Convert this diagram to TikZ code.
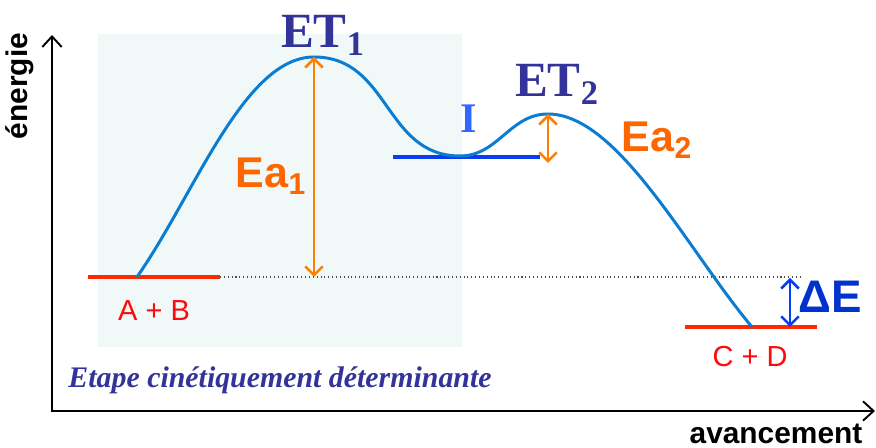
\documentclass[tikz,border=0pt]{standalone}
\usepackage{fontspec}
\setmainfont{Liberation Serif}
\setsansfont{Liberation Sans}
\usetikzlibrary{arrows.meta}
\definecolor{curveblue}{RGB}{10,125,210}
\definecolor{tsblue}{RGB}{51,51,153}
\definecolor{iblue}{RGB}{51,102,255}
\definecolor{ilevel}{RGB}{10,60,240}
\definecolor{levelred}{RGB}{255,40,0}
\definecolor{specred}{RGB}{255,10,10}
\definecolor{eaorange}{RGB}{255,102,0}
\definecolor{gaporange}{RGB}{255,128,0}
\definecolor{deblue}{RGB}{0,51,204}
\definecolor{stepbg}{RGB}{240,249,248}
\newcommand{\fsz}[1]{\fontsize{#1}{#1}\selectfont}

\begin{document}
\begin{tikzpicture}[x=0.02cm, y=0.02cm,
  axis/.style={line width=1.1pt,
    {Straight Barb[length=6pt,width=11pt]}-{Straight Barb[length=6pt,width=11pt]}},
  level/.style={line width=2.8pt},
  gap/.style={line width=1.5pt,
    {Straight Barb[length=5pt,width=10pt]}-{Straight Barb[length=5pt,width=10pt]}},
  ts/.style={font=\bfseries\fsz{28}, text=tsblue, inner sep=0pt, anchor=base},
  ea/.style={font=\sffamily\bfseries\fsz{24.5}, text=eaorange, inner sep=0pt, anchor=base},
  species/.style={font=\sffamily\fsz{16.5}, text=specred, inner sep=0pt, anchor=base},
  axlabel/.style={font=\sffamily\bfseries\fsz{17}, inner sep=0pt}
]
\useasboundingbox (0,0) rectangle (876,448);
% rate-determining step
\fill[stepbg] (98,101) rectangle (462,414);
\node[font=\bfseries\itshape\fsz{17}, text=tsblue, inner sep=0pt, anchor=base]
  (rds) at (280,60) {Etape cinétiquement déterminante};

% axes
\coordinate (ytip) at (52,413);
\coordinate (xtip) at (875,37);
\draw[axis] (ytip) |- (xtip);
\node[axlabel, rotate=90] (ylbl) at (20,362) {énergie};
\node[axlabel, anchor=base] (xlbl) at (776,4) {avancement};

% levels
\coordinate (abL) at (88,171);  \coordinate (abR) at (220,171);
\coordinate (iL) at (393,291);  \coordinate (iR) at (540,291);
\coordinate (cdL) at (685,121); \coordinate (cdR) at (817,121);
\coordinate (ref) at (800,171);
\draw[dash pattern=on 0.6pt off 1.6pt, line width=0.6pt, black!70] (abR) -- (ref);
\draw[level, levelred] (abL) -- (abR);
\draw[level, ilevel] (iL) -- (iR);
\draw[level, levelred] (cdL) -- (cdR);

% energy profile
\coordinate (start) at (137,171);
\coordinate (et1) at (314,391);
\coordinate (imin) at (460,292);
\coordinate (et2) at (548,334);
\coordinate (stop) at (752,121);
\draw[curveblue, line width=1.7pt]
  (start) to[out=55,in=180,out distance=2cm,in distance=1.4cm] (et1)
  to[out=0,in=180,looseness=1.1] (imin)
  to[out=0,in=180] (et2)
  to[out=0,in=130,out distance=1.4cm,in distance=2cm] (stop);

% gaps
\coordinate (ea1low) at (314,171);
\coordinate (ea2low) at (548,285);
\coordinate (detop) at (790,170);
\coordinate (delow) at (790,121);
\draw[gap, gaporange] (et1) -- (ea1low);
\draw[gap, gaporange] (et2) -- (ea2low);
\draw[gap, ilevel] (detop) -- (delow);

% labels
\node[ts] (et1lbl) at (323,400) {ET\textsubscript{1}};
\node[ts] (et2lbl) at (557,351) {ET\textsubscript{2}};
\node[font=\bfseries\fsz{24}, text=iblue, inner sep=0pt, anchor=base] (ilbl) at (469,315) {I};
\node[ea] (ea1lbl) at (271,260) {Ea\textsubscript{1}};
\node[ea] (ea2lbl) at (657,296) {Ea\textsubscript{2}};
\node[font=\sffamily\bfseries\fsz{26}, text=deblue, inner sep=0pt, anchor=base] (delbl) at (830,135) {ΔE};
\node[species] (ablbl) at (154,127) {A + B};
\node[species] (cdlbl) at (750,81) {C + D};
\end{tikzpicture}
\end{document}
